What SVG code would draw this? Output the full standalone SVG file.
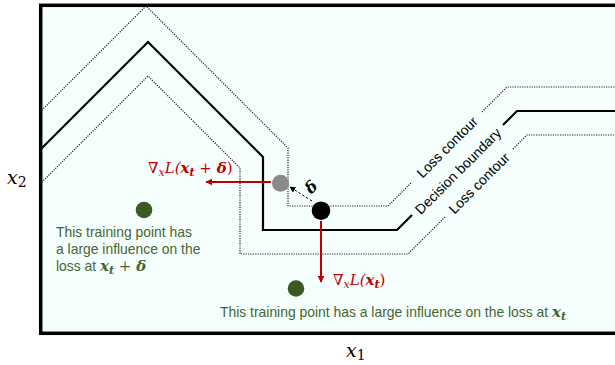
<svg xmlns="http://www.w3.org/2000/svg" width="615" height="365" viewBox="0 0 615 365">
<defs>
<style>
.dot{fill:none;stroke:#222;stroke-width:1.2;stroke-dasharray:1.2 1.2}
.sol{fill:none;stroke:#000;stroke-width:2.2}
.lbl{font-family:"Liberation Sans",Arial,sans-serif;font-size:13.9px;fill:#000}
.grn{font-family:"Liberation Sans",Arial,sans-serif;font-size:13.9px;fill:#476530}
.m{font-family:"DejaVu Serif","Liberation Serif",serif;font-style:italic}
.red{fill:#C00000}
.ax{font-family:"DejaVu Serif","Liberation Serif",serif;font-size:19px;fill:#000}
</style>
<marker id="ar" viewBox="0 0 10 10" refX="9" refY="5" markerWidth="3.5" markerHeight="3.5" orient="auto" markerUnits="strokeWidth"><path d="M0,0 L10,5 L0,10 z" fill="#C00000"/></marker>
<marker id="ak" viewBox="0 0 10 10" refX="9" refY="5" markerWidth="6" markerHeight="6" orient="auto" markerUnits="strokeWidth"><path d="M0,0 L10,5 L0,10 z" fill="#000"/></marker>
<clipPath id="c"><rect x="42" y="7" width="580" height="325"/></clipPath>
</defs>
<rect x="0" y="0" width="615" height="365" fill="#fff"/>
<rect id="frame" x="40.7" y="5.3" width="600" height="328" fill="#F4FFFE" stroke="#000" stroke-width="3.5"/>
<g id="contours" clip-path="url(#c)">
<path id="outer-contour" class="dot" d="M40,112 L146,6 L288,148 L288,206 L388,206 L412,182 M482,112 L507,87 L620,87"/>
<path id="decision-boundary" class="sol" d="M40,150 L148,42 L263,157 L263,230 L397,230 L412,215 M503,125 L517,111 L620,111"/>
<path id="inner-contour" class="dot" d="M40,184 L148,76 L240,168 L240,254 L408,254 L445,217 M513,149 L527,135 L620,135"/>
</g>
<g id="contour-labels">
<text class="lbl" text-anchor="middle" transform="translate(447,147) rotate(-45)" y="5">Loss contour</text>
<text class="lbl" text-anchor="middle" transform="translate(458,171) rotate(-45)" y="5">Decision boundary</text>
<text class="lbl" text-anchor="middle" transform="translate(479,183) rotate(-45)" y="5">Loss contour</text>
</g>
<g id="connectors">
<line x1="271" y1="182" x2="206" y2="182" stroke="#C00000" stroke-width="2" marker-end="url(#ar)"/>
<line x1="321" y1="221" x2="321" y2="282" stroke="#C00000" stroke-width="2" marker-end="url(#ar)"/>
<line x1="312" y1="201" x2="290" y2="187" stroke="#000" stroke-width="1" stroke-dasharray="2.5 2" marker-end="url(#ak)"/>
</g>
<g id="perturbed-point"><circle cx="280.5" cy="183.3" r="8.5" fill="#8A8A8A"/></g>
<g id="test-point"><circle cx="321" cy="210.7" r="9.3" fill="#000"/></g>
<g id="train-point-1"><circle cx="144" cy="210" r="8.3" fill="#3A5A24"/>
<text class="grn" x="56" y="237">This training point has</text>
<text class="grn" x="56" y="254">a large influence on the</text>
<text class="grn" x="56" y="271">loss at <tspan class="m" font-weight="bold" font-size="15">x</tspan><tspan class="m" font-weight="bold" font-size="11" dy="3">t</tspan><tspan font-family="DejaVu Serif,serif" font-size="15" dy="-3"> + </tspan><tspan class="m" font-weight="bold" font-size="15">δ</tspan></text>
</g>
<g id="train-point-2"><circle cx="296" cy="288.5" r="8.3" fill="#3A5A24"/>
<text class="grn" x="220" y="317">This training point has a large influence on the loss at <tspan class="m" font-weight="bold" font-size="15">x</tspan><tspan class="m" font-weight="bold" font-size="11" dy="3">t</tspan></text>
</g>
<g id="delta-label"><text class="m" font-weight="bold" font-size="16" text-anchor="middle" transform="translate(315,191) rotate(-45)">δ</text></g>
<g id="grad-delta-label"><text class="m red" x="148" y="173" font-size="15">∇<tspan font-size="11" dy="3">x</tspan><tspan dy="-3">L(</tspan><tspan font-weight="bold">x</tspan><tspan font-weight="bold" font-size="11" dy="3">t</tspan><tspan dy="-3" font-style="normal"> + </tspan><tspan font-weight="bold">δ</tspan><tspan font-style="normal">)</tspan></text></g>
<g id="grad-label"><text class="m red" x="333" y="285" font-size="15">∇<tspan font-size="11" dy="3">x</tspan><tspan dy="-3">L(</tspan><tspan font-weight="bold">x</tspan><tspan font-weight="bold" font-size="11" dy="3">t</tspan><tspan dy="-3" font-style="normal">)</tspan></text></g>
<g id="axis-labels">
<text class="ax" x="7" y="184"><tspan font-style="italic">x</tspan><tspan font-size="14" dy="3">2</tspan></text>
<text class="ax" x="346" y="357"><tspan font-style="italic">x</tspan><tspan font-size="14" dy="3">1</tspan></text>
</g>
</svg>
